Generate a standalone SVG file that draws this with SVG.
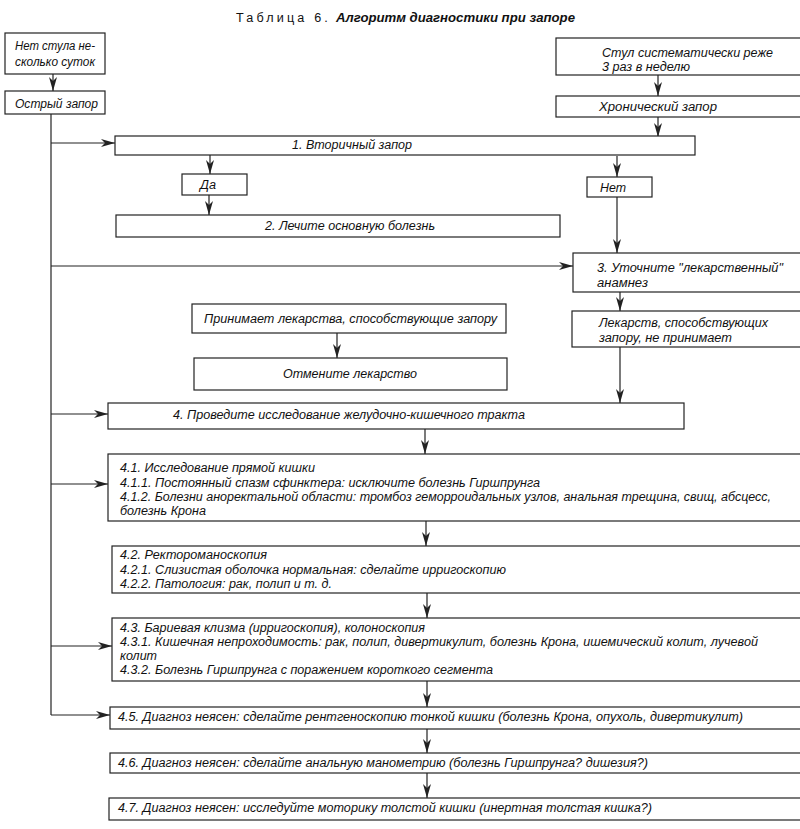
<svg xmlns="http://www.w3.org/2000/svg" width="800" height="829" viewBox="0 0 800 829">
<style>
.bg{fill:#fff}
.box{fill:#fff;stroke:#222;stroke-width:1.2}
.ln{fill:none;stroke:#222;stroke-width:1.2}
.ar{fill:none;stroke:#222;stroke-width:1.2;marker-end:url(#ah)}
text{font-family:"Liberation Sans",Arial,sans-serif;font-size:12.5px;font-style:italic;fill:#111}
.t1{font-style:normal;font-size:12px;letter-spacing:3px}
.t2{font-weight:bold;font-size:13px}
</style>
<defs>
<marker id="ah" viewBox="0 0 14 8" refX="14" refY="4" markerWidth="14" markerHeight="8" markerUnits="userSpaceOnUse" orient="auto">
<path d="M0,0 L14,4 L0,8 L4,4 Z" fill="#222"/>
</marker>
</defs>
<rect class="bg" x="0" y="0" width="800" height="829"/>
<g id="title">
<text class="t1" x="236" y="22" textLength="95" lengthAdjust="spacingAndGlyphs">Таблица 6.</text>
<text class="t2" x="336" y="22" textLength="239" lengthAdjust="spacingAndGlyphs">Алгоритм диагностики при запоре</text>
</g>
<g id="connectors">
<line class="ar" x1="53" y1="74" x2="53" y2="91"/>
<polyline class="ln" points="51,114 51,715"/>
<line class="ar" x1="658" y1="75" x2="658" y2="96"/>
<line class="ar" x1="658" y1="117" x2="658" y2="137"/>
<line class="ar" x1="51" y1="143" x2="115" y2="143"/>
<line class="ar" x1="210" y1="155" x2="210" y2="174"/>
<line class="ar" x1="209" y1="195" x2="209" y2="215"/>
<line class="ar" x1="617" y1="156" x2="617" y2="177"/>
<line class="ar" x1="617" y1="197" x2="617" y2="253"/>
<line class="ar" x1="51" y1="266" x2="573" y2="266"/>
<line class="ar" x1="620" y1="292" x2="620" y2="311"/>
<line class="ar" x1="620" y1="347" x2="620" y2="403"/>
<line class="ar" x1="337" y1="333" x2="337" y2="358"/>
<line class="ar" x1="51" y1="414" x2="108" y2="414"/>
<line class="ar" x1="425" y1="429" x2="425" y2="454"/>
<line class="ar" x1="51" y1="484" x2="108" y2="484"/>
<line class="ar" x1="426" y1="521" x2="426" y2="546"/>
<line class="ar" x1="427" y1="593" x2="427" y2="618"/>
<line class="ar" x1="51" y1="646" x2="112" y2="646"/>
<line class="ar" x1="427" y1="681" x2="427" y2="707"/>
<line class="ar" x1="51" y1="715" x2="110" y2="715"/>
<line class="ar" x1="427" y1="729" x2="427" y2="753"/>
<line class="ar" x1="427" y1="773" x2="427" y2="798"/>
</g>
<g id="n-no-stool">
<rect class="box" x="5" y="33" width="100" height="41"/>
<text x="15" y="50" textLength="80" lengthAdjust="spacingAndGlyphs">Нет стула не-</text>
<text x="15" y="66" textLength="80" lengthAdjust="spacingAndGlyphs">сколько суток</text>
</g>
<g id="n-acute">
<rect class="box" x="5" y="91" width="100" height="23"/>
<text x="15" y="108" textLength="83" lengthAdjust="spacingAndGlyphs">Острый запор</text>
</g>
<g id="n-rare">
<rect class="box" x="556" y="38" width="250" height="37"/>
<text x="602" y="57" textLength="171" lengthAdjust="spacingAndGlyphs">Стул систематически реже</text>
<text x="602" y="71" textLength="88" lengthAdjust="spacingAndGlyphs">3 раз в неделю</text>
</g>
<g id="n-chronic">
<rect class="box" x="556" y="96" width="250" height="21"/>
<text x="599" y="111" textLength="118" lengthAdjust="spacingAndGlyphs">Хронический запор</text>
</g>
<g id="n1">
<rect class="box" x="115" y="136" width="580" height="19"/>
<text x="292" y="149" textLength="120" lengthAdjust="spacingAndGlyphs">1. Вторичный запор</text>
</g>
<g id="n-yes">
<rect class="box" x="182" y="174" width="65" height="21"/>
<text x="200" y="189" textLength="16" lengthAdjust="spacingAndGlyphs">Да</text>
</g>
<g id="n-no">
<rect class="box" x="587" y="177" width="65" height="20"/>
<text x="600" y="192" textLength="26" lengthAdjust="spacingAndGlyphs">Нет</text>
</g>
<g id="n2">
<rect class="box" x="116" y="215" width="444" height="22"/>
<text x="265" y="230" textLength="170" lengthAdjust="spacingAndGlyphs">2. Лечите основную болезнь</text>
</g>
<g id="n3">
<rect class="box" x="573" y="253" width="235" height="39"/>
<text x="597" y="272" textLength="186" lengthAdjust="spacingAndGlyphs">3. Уточните "лекарственный"</text>
<text x="597" y="287" textLength="51" lengthAdjust="spacingAndGlyphs">анамнез</text>
</g>
<g id="n-takes">
<rect class="box" x="192" y="304" width="314" height="29"/>
<text x="204" y="323" textLength="293" lengthAdjust="spacingAndGlyphs">Принимает лекарства, способствующие запору</text>
</g>
<g id="n-cancel">
<rect class="box" x="194" y="358" width="313" height="32"/>
<text x="283" y="378" textLength="134" lengthAdjust="spacingAndGlyphs">Отмените лекарство</text>
</g>
<g id="n-not-takes">
<rect class="box" x="572" y="311" width="236" height="36"/>
<text x="599" y="327" textLength="169" lengthAdjust="spacingAndGlyphs">Лекарств, способствующих</text>
<text x="599" y="342" textLength="133" lengthAdjust="spacingAndGlyphs">запору, не принимает</text>
</g>
<g id="n4">
<rect class="box" x="108" y="403" width="576" height="26"/>
<text x="173" y="419" textLength="352" lengthAdjust="spacingAndGlyphs">4. Проведите исследование желудочно-кишечного тракта</text>
</g>
<g id="n4-1">
<rect class="box" x="108" y="454" width="700" height="67"/>
<text x="120" y="472" textLength="195" lengthAdjust="spacingAndGlyphs">4.1. Исследование прямой кишки</text>
<text x="120" y="487" textLength="420" lengthAdjust="spacingAndGlyphs">4.1.1. Постоянный спазм сфинктера: исключите болезнь Гиршпрунга</text>
<text x="120" y="501" textLength="651" lengthAdjust="spacingAndGlyphs">4.1.2. Болезни аноректальной области: тромбоз геморроидальных узлов, анальная трещина, свищ, абсцесс,</text>
<text x="120" y="515" textLength="86" lengthAdjust="spacingAndGlyphs">болезнь Крона</text>
</g>
<g id="n4-2">
<rect class="box" x="112" y="546" width="700" height="47"/>
<text x="120" y="559" textLength="147" lengthAdjust="spacingAndGlyphs">4.2. Ректороманоскопия</text>
<text x="120" y="574" textLength="386" lengthAdjust="spacingAndGlyphs">4.2.1. Слизистая оболочка нормальная: сделайте ирригоскопию</text>
<text x="120" y="588" textLength="212" lengthAdjust="spacingAndGlyphs">4.2.2. Патология: рак, полип и т. д.</text>
</g>
<g id="n4-3">
<rect class="box" x="112" y="618" width="700" height="63"/>
<text x="120" y="632" textLength="305" lengthAdjust="spacingAndGlyphs">4.3. Бариевая клизма (ирригоскопия), колоноскопия</text>
<text x="120" y="646" textLength="638" lengthAdjust="spacingAndGlyphs">4.3.1. Кишечная непроходимость: рак, полип, дивертикулит, болезнь Крона, ишемический колит, лучевой</text>
<text x="120" y="660" textLength="37" lengthAdjust="spacingAndGlyphs">колит</text>
<text x="120" y="674" textLength="373" lengthAdjust="spacingAndGlyphs">4.3.2. Болезнь Гиршпрунга с поражением короткого сегмента</text>
</g>
<g id="n4-5">
<rect class="box" x="110" y="707" width="700" height="22"/>
<text x="118" y="721" textLength="625" lengthAdjust="spacingAndGlyphs">4.5. Диагноз неясен: сделайте рентгеноскопию тонкой кишки (болезнь Крона, опухоль, дивертикулит)</text>
</g>
<g id="n4-6">
<rect class="box" x="110" y="753" width="700" height="20"/>
<text x="118" y="767" textLength="530" lengthAdjust="spacingAndGlyphs">4.6. Диагноз неясен: сделайте анальную манометрию (болезнь Гиршпрунга? дишезия?)</text>
</g>
<g id="n4-7">
<rect class="box" x="109" y="798" width="700" height="22"/>
<text x="118" y="812" textLength="534" lengthAdjust="spacingAndGlyphs">4.7. Диагноз неясен: исследуйте моторику толстой кишки (инертная толстая кишка?)</text>
</g>
</svg>
